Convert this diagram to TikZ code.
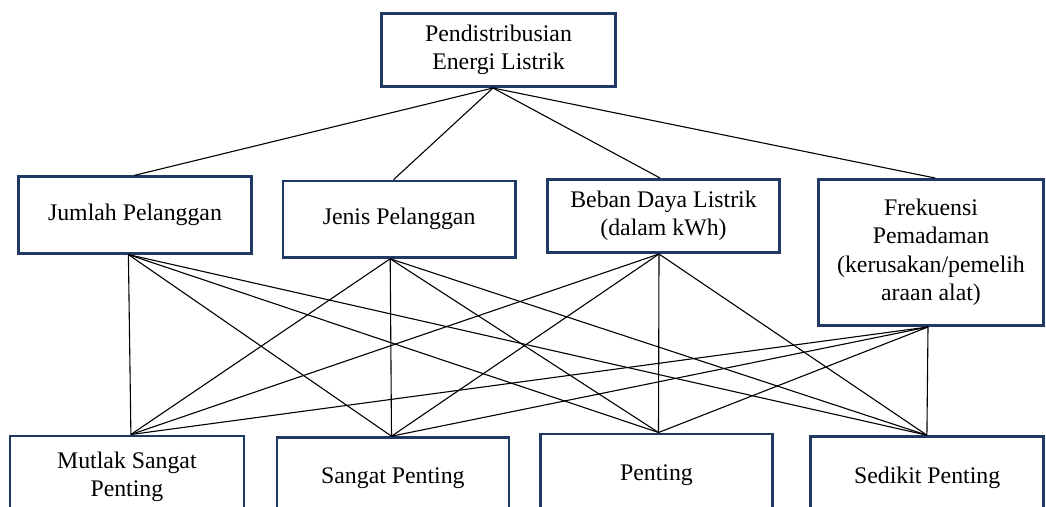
\documentclass[tikz,border=0pt]{standalone}
\usepackage{fontspec}
\setmainfont{Liberation Serif}
\definecolor{boxblue}{RGB}{32,56,100}
\begin{document}
\begin{tikzpicture}[x=1pt,y=-1pt,
  box/.style={draw=boxblue, line width=2.6pt, inner sep=0pt, align=center,
    font=\fontsize{23.8pt}{28.5pt}\selectfont},
  link/.style={draw=black, line width=1.1pt}]
\path[use as bounding box, clip] (0,0) rectangle (1046,506);

% goal
\node[box, minimum width=234.4pt, minimum height=73.4pt] (root) at (498.5,50)
  {Pendistribusian\\Energi Listrik};

% criteria
\node[box, minimum width=233.4pt, minimum height=76.6pt] (jumlah) at (135,215)
  {Jumlah Pelanggan};
\node[box, minimum width=232.2pt, minimum height=76.6pt] (jenis) at (399.1,219.2)
  {Jenis Pelanggan};
\node[box, minimum width=232.4pt, minimum height=73.4pt] (beban) at (663.5,216)
  {Beban Daya Listrik\\(dalam kWh)};
\node[box, minimum width=225.4pt, minimum height=146.4pt] (frek) at (931,252.5)
  {Frekuensi\\Pemadaman\\(kerusakan/pemelih\\araan alat)};

% alternatives
\node[box, minimum width=234pt, minimum height=82pt] (mutlak) at (126.9,476.8)
  {Mutlak Sangat\\Penting};
\node[box, minimum width=232.2pt, minimum height=82pt] (sangat) at (392.9,478.5)
  {Sangat Penting};
\node[box, minimum width=232.2pt, minimum height=82pt] (penting) at (656.5,474.8)
  {Penting};
\node[box, minimum width=233.2pt, minimum height=82pt] (sedikit) at (927.1,477.5)
  {Sedikit Penting};

% connection points
\coordinate (root-b) at ([xshift=-5.5pt]root.south);
\coordinate (jumlah-t) at ([xshift=-0.7pt]jumlah.north);
\coordinate (jenis-t) at ([xshift=-5.5pt]jenis.north);
\coordinate (beban-t) at ([xshift=-3.5pt]beban.north);
\coordinate (frek-t) at ([xshift=4pt]frek.north);
\coordinate (jumlah-b) at ([xshift=-6.6pt]jumlah.south);
\coordinate (jenis-b) at ([xshift=-8.9pt]jenis.south);
\coordinate (beban-b) at ([xshift=-4.5pt]beban.south);
\coordinate (frek-b) at ([xshift=-3pt]frek.south);
\coordinate (mutlak-t) at ([xshift=4pt]mutlak.north);
\coordinate (sangat-t) at ([xshift=-1.4pt]sangat.north);
\coordinate (penting-t) at ([xshift=2pt]penting.north);
\coordinate (sedikit-t) at ([xshift=-0.2pt]sedikit.north);

% goal to criteria
\foreach \c in {jumlah,jenis,beban,frek}
  \draw[link] (root-b) -- (\c-t);

% criteria to alternatives
\foreach \c in {jumlah,jenis,beban,frek}
  \foreach \a in {mutlak,sangat,penting,sedikit}
    \draw[link] (\c-b) -- (\a-t);
\end{tikzpicture}
\end{document}
